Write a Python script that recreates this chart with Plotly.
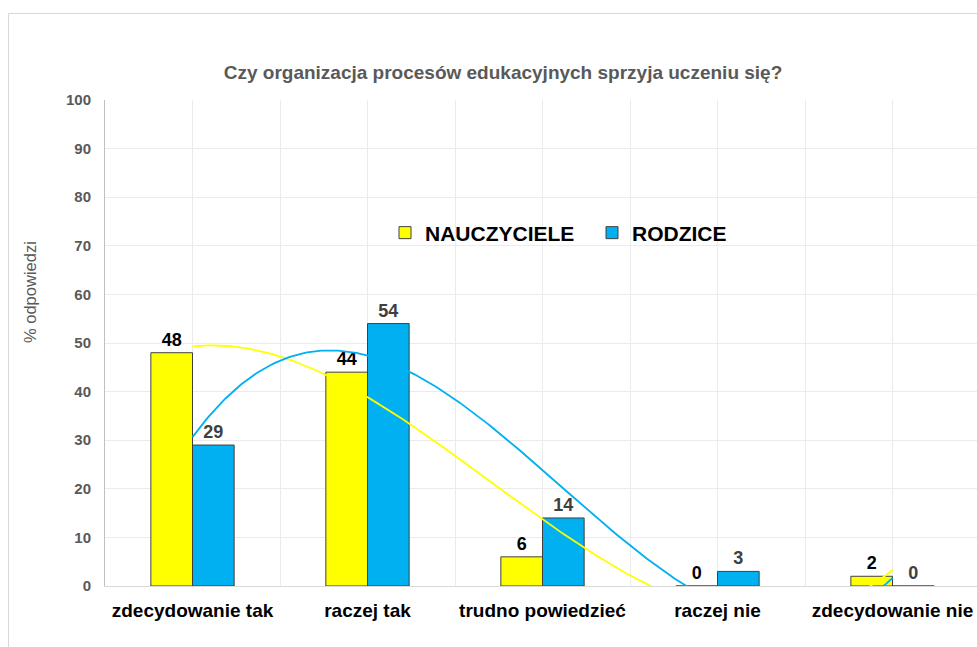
import numpy as np
import plotly.graph_objects as go

categories = ["zdecydowanie tak", "raczej tak", "trudno powiedzieć", "raczej nie", "zdecydowanie nie"]
nauczyciele = [48, 44, 6, 0, 2]
rodzice = [29, 54, 14, 3, 0]
y_ticks = [0, 10, 20, 30, 40, 50, 60, 70, 80, 90, 100]

title_text = "Czy organizacja procesów edukacyjnych sprzyja uczeniu się?"
y_title = "% odpowiedzi"

FONT = "Liberation Sans, Arial, sans-serif"
YELLOW = "#FFFF00"
BLUE = "#00B0F0"

W, H = 977, 647
L, R, T, B = 105, 0, 100, 61
plot_w = W - L - R
plot_h = H - T - B
cat_px = 175.0

x = np.arange(len(categories))

fig = go.Figure()
fig.add_trace(go.Bar(
    x=x, y=nauczyciele, name="NAUCZYCIELE",
    marker=dict(color=YELLOW, line=dict(color="#404040", width=1)),
    texttemplate="%{y}", textposition="outside",
    textfont=dict(family=FONT, size=18, color="#000000", weight="bold"),
    cliponaxis=False,
))
fig.add_trace(go.Bar(
    x=x, y=rodzice, name="RODZICE",
    marker=dict(color=BLUE, line=dict(color="#404040", width=1)),
    texttemplate="%{y}", textposition="outside",
    textfont=dict(family=FONT, size=18, color="#404040", weight="bold"),
    cliponaxis=False,
))

# polynomial (order 3) trendlines fitted to each series, as in the original chart
xs = np.linspace(0, len(categories) - 1, 300)
for vals, col in [(nauczyciele, YELLOW), (rodzice, BLUE)]:
    coef = np.polyfit(x, vals, 3)
    fig.add_trace(go.Scatter(
        x=xs, y=np.polyval(coef, xs), mode="lines",
        line=dict(color=col, width=1.8), showlegend=False, hoverinfo="skip",
    ))

# the original plot area runs slightly past the right edge of the picture
x_range = [-0.5, -0.5 + plot_w / cat_px]

def px_to_paper_x(px):
    return (px - L) / plot_w

def px_to_paper_y(py):
    return (H - B - py) / plot_h

fig.update_layout(
    width=W, height=H,
    margin=dict(l=L, r=R, t=T, b=B, pad=0),
    paper_bgcolor="white", plot_bgcolor="white",
    barmode="group", bargap=0.524, bargroupgap=0,
    font=dict(family=FONT),
    title=dict(
        text=title_text, x=px_to_paper_x(503), xref="paper", xanchor="center",
        y=1 - 72 / H, yanchor="middle",
        font=dict(family=FONT, size=19, color="#595959", weight="bold"),
    ),
    legend=dict(
        orientation="h", x=px_to_paper_x(385), xanchor="left",
        y=px_to_paper_y(233), yanchor="middle",
        font=dict(family=FONT, size=21, color="#000000", weight="bold"),
        bgcolor="rgba(0,0,0,0)", itemwidth=30,
        entrywidth=162, entrywidthmode="pixels",
    ),
    xaxis=dict(
        range=x_range, tickmode="array", tickvals=list(x), ticktext=categories,
        showgrid=True, gridcolor="#ebebeb", gridwidth=1,
        minor=dict(tickmode="array", tickvals=list(np.arange(-0.5, 5, 1.0)),
                   showgrid=True, gridcolor="#ebebeb", gridwidth=1, ticks=""),
        ticks="", ticklabelstandoff=7,
        showline=True, linecolor="#d9d9d9", linewidth=1,
        tickfont=dict(family=FONT, size=19, color="#000000", weight="bold"),
        zeroline=False, fixedrange=True,
    ),
    yaxis=dict(
        range=[0, 100], tickmode="array", tickvals=y_ticks,
        showgrid=True, gridcolor="#ebebeb", gridwidth=1,
        ticks="", ticklabelstandoff=10,
        showline=True, linecolor="#bfbfbf", linewidth=1,
        tickfont=dict(family=FONT, size=15, color="#595959", weight="bold"),
        zeroline=False, fixedrange=True,
    ),
    annotations=[dict(
        text=y_title, textangle=-90, showarrow=False,
        xref="paper", yref="paper",
        x=px_to_paper_x(30), y=px_to_paper_y(292),
        xanchor="center", yanchor="middle",
        font=dict(family=FONT, size=16.5, color="#595959"),
    )],
    shapes=[dict(
        type="rect", xref="paper", yref="paper",
        x0=px_to_paper_x(8.5), x1=px_to_paper_x(W + 20),
        y0=px_to_paper_y(H + 20), y1=px_to_paper_y(13.5),
        line=dict(color="#d9d9d9", width=1), fillcolor="rgba(0,0,0,0)",
        layer="below",
    )],
)

fig.write_html(
    "out.html",
    config={"displayModeBar": False},
    post_script="document.body.style.margin='0';document.body.style.overflow='hidden';",
)
